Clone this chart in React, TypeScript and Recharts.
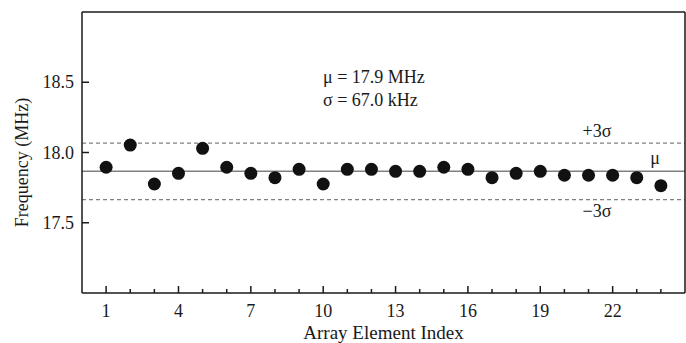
import { ScatterChart, Scatter, XAxis, YAxis, ReferenceLine } from 'recharts'

const indices = [1, 2, 3, 4, 5, 6, 7, 8, 9, 10, 11, 12, 13, 14, 15, 16, 17, 18, 19, 20, 21, 22, 23, 24]
const frequencies = [
  17.895, 18.053, 17.776, 17.852, 18.03, 17.895, 17.852, 17.821, 17.88, 17.776, 17.88, 17.88,
  17.866, 17.866, 17.895, 17.88, 17.821, 17.852, 17.866, 17.838, 17.838, 17.838, 17.821, 17.764,
]
const xTicks = indices
const xLabels = [1, 4, 7, 10, 13, 16, 19, 22]
const yTicks = [17.5, 18, 18.5]
const mu = 17.866
const upper = 18.067
const lower = 17.665

const FONT = '"Liberation Serif", "Times New Roman", serif'
const INK = '#1a1a1a'
const GREY = '#808080'

const data = indices.map((x, i) => ({ x, y: frequencies[i] }))

// eslint-disable-next-line @typescript-eslint/no-explicit-any
const BottomTick = ({ x, y, payload }: any) => {
  const major = xLabels.includes(payload.value)
  return (
    <g>
      <line x1={x} x2={x} y1={y} y2={y - (major ? 7 : 4)} stroke={INK} strokeWidth={1.5} />
      {major && (
        <text x={x} y={y + 24} textAnchor="middle" fontFamily={FONT} fontSize={18} fill={INK}>
          {payload.value}
        </text>
      )}
    </g>
  )
}

// eslint-disable-next-line @typescript-eslint/no-explicit-any
const TopTick = ({ x, y, payload }: any) => {
  const major = xLabels.includes(payload.value)
  return <line x1={x} x2={x} y1={y} y2={y + (major ? 7 : 4)} stroke={INK} strokeWidth={1.5} />
}

// eslint-disable-next-line @typescript-eslint/no-explicit-any
const LeftTick = ({ x, y, payload }: any) => (
  <g>
    <line x1={x} x2={x + 7} y1={y} y2={y} stroke={INK} strokeWidth={1.5} />
    <text x={x - 8} y={y + 6} textAnchor="end" fontFamily={FONT} fontSize={18} fill={INK}>
      {payload.value.toFixed(1)}
    </text>
  </g>
)

// eslint-disable-next-line @typescript-eslint/no-explicit-any
const RightTick = ({ x, y }: any) => (
  <line x1={x} x2={x - 7} y1={y} y2={y} stroke={INK} strokeWidth={1.5} />
)

// eslint-disable-next-line @typescript-eslint/no-explicit-any
const lineText = (text: string, dx: number, dy: number) => ({ viewBox }: any) => (
  <text
    x={viewBox.x + viewBox.width - dx}
    y={viewBox.y + dy}
    textAnchor="middle"
    fontFamily={FONT}
    fontSize={18}
    fill={INK}
  >
    {text}
  </text>
)

export default function App() {
  return (
    <div style={{ position: 'absolute', left: 0, top: 0, width: 686, height: 343, background: '#fff' }}>
      <ScatterChart width={686} height={343} margin={{ top: 11, right: 0, bottom: 0, left: 0 }}>
        <XAxis
          xAxisId="b"
          dataKey="x"
          type="number"
          domain={[0, 25]}
          ticks={xTicks}
          interval={0}
          height={50}
          tickSize={0}
          tickMargin={0}
          tickLine={false}
          tick={<BottomTick />}
          axisLine={{ stroke: INK, strokeWidth: 1.5 }}
          label={{
            // eslint-disable-next-line @typescript-eslint/no-explicit-any
            content: ({ viewBox }: any) => (
              <text x={viewBox.x + viewBox.width / 2} y={viewBox.y + 46} textAnchor="middle" fontFamily={FONT} fontSize={19} fill={INK}>
                Array Element Index
              </text>
            ),
          }}
        />
        <XAxis
          xAxisId="t"
          orientation="top"
          type="number"
          domain={[0, 25]}
          ticks={xTicks}
          interval={0}
          height={1}
          tickSize={0}
          tickMargin={0}
          tickLine={false}
          tick={<TopTick />}
          axisLine={{ stroke: INK, strokeWidth: 1.5 }}
        />
        <YAxis
          yAxisId="l"
          dataKey="y"
          type="number"
          domain={[17, 19]}
          ticks={yTicks}
          interval={0}
          width={82}
          tickSize={0}
          tickMargin={0}
          tickLine={false}
          tick={<LeftTick />}
          axisLine={{ stroke: INK, strokeWidth: 1.5 }}
          label={{
            // eslint-disable-next-line @typescript-eslint/no-explicit-any
            content: ({ viewBox }: any) => {
              const cx = viewBox.x + 22
              const cy = viewBox.y + viewBox.height / 2 + 10
              return (
                <text x={cx} y={cy} transform={`rotate(-90 ${cx} ${cy})`} textAnchor="middle" dominantBaseline="central" fontFamily={FONT} fontSize={18} fill={INK}>
                  Frequency (MHz)
                </text>
              )
            },
          }}
        />
        <YAxis
          yAxisId="r"
          orientation="right"
          type="number"
          domain={[17, 19]}
          ticks={yTicks}
          interval={0}
          width={1}
          tickSize={0}
          tickMargin={0}
          tickLine={false}
          tick={<RightTick />}
          axisLine={{ stroke: INK, strokeWidth: 1.5 }}
        />
        <ReferenceLine xAxisId="b" yAxisId="l" y={upper} stroke={GREY} strokeWidth={1.2} strokeDasharray="4 3" label={{ content: lineText('+3σ', 88, -6) }} />
        <ReferenceLine xAxisId="b" yAxisId="l" y={mu} stroke={GREY} strokeWidth={1.5} label={{ content: lineText('μ', 30, -7) }} />
        <ReferenceLine xAxisId="b" yAxisId="l" y={lower} stroke={GREY} strokeWidth={1.2} strokeDasharray="4 3" label={{ content: lineText('−3σ', 88, 17) }} />
        <Scatter
          xAxisId="b"
          yAxisId="l"
          data={data}
          isAnimationActive={false}
          // eslint-disable-next-line @typescript-eslint/no-explicit-any
          shape={(p: any) => <circle cx={p.cx} cy={p.cy} r={6.5} fill="#111" />}
        />
      </ScatterChart>
      <div style={{ position: 'absolute', left: 323, top: 66, fontFamily: FONT, fontSize: 18, lineHeight: '23px', color: INK, whiteSpace: 'nowrap' }}>
        <div>μ = 17.9 MHz</div>
        <div>σ = 67.0 kHz</div>
      </div>
    </div>
  )
}
